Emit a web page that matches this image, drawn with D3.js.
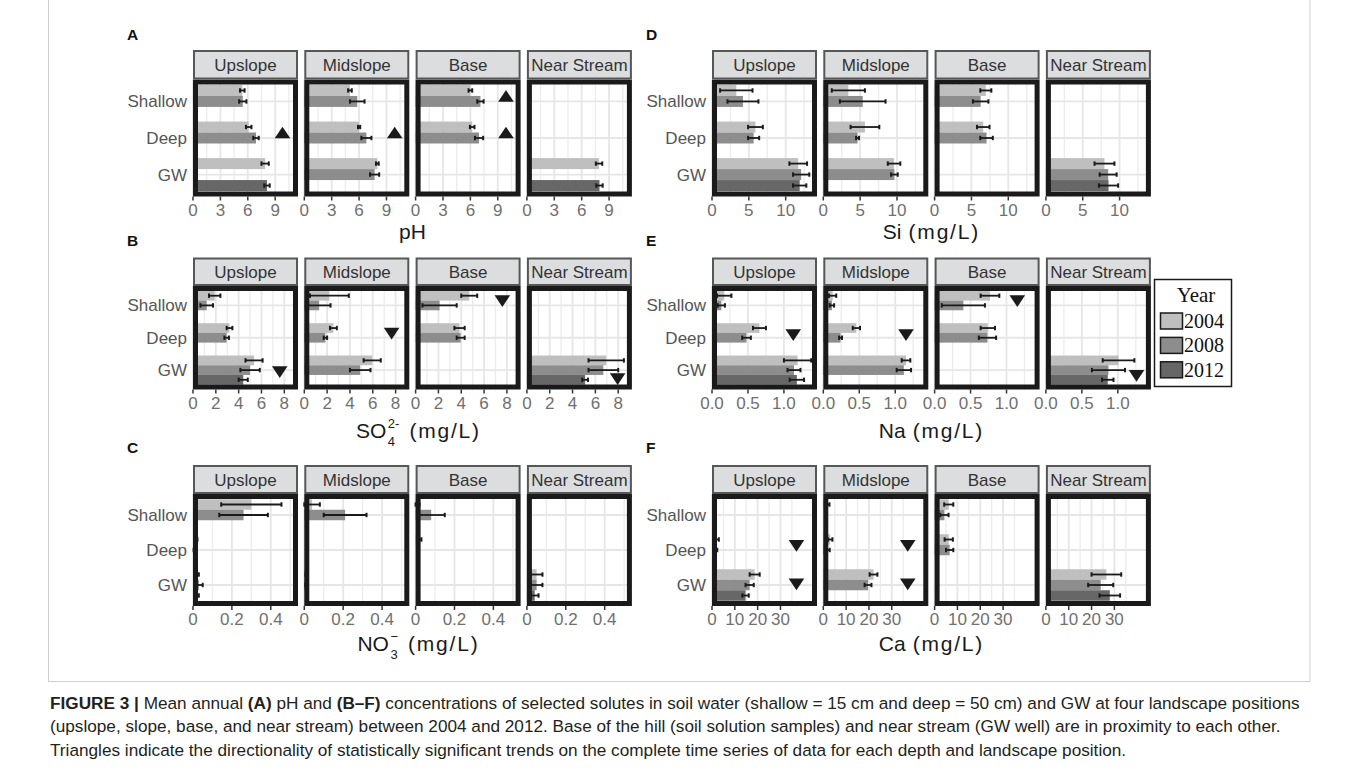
<!DOCTYPE html>
<html><head><meta charset="utf-8">
<script src="https://cdn.jsdelivr.net/npm/d3@7"></script>
<style>
body{margin:0;background:#fff;}
svg{display:block;font-family:"Liberation Sans",Arial,sans-serif;}
</style></head><body>
<svg id="fig" width="1358" height="773"></svg>
<script>
// ---- categories ----
const positions = ["Upslope", "Midslope", "Base", "Near Stream"];
const depths = ["Shallow", "Deep", "GW"];
const years = ["2004", "2008", "2012"];
const yearFill = ["#bfbfbf", "#8d8d8d", "#676767"];

// ---- means and standard errors: [position, depth, year, mean, se] ----
const pH = [
  ["Upslope", "Shallow", "2004", 5.4, 0.25], ["Upslope", "Shallow", "2008", 5.45, 0.4],
  ["Upslope", "Deep", "2004", 6.1, 0.3], ["Upslope", "Deep", "2008", 6.9, 0.3],
  ["Upslope", "GW", "2004", 7.9, 0.4], ["Upslope", "GW", "2012", 8.1, 0.3],
  ["Midslope", "Shallow", "2004", 5.0, 0.2], ["Midslope", "Shallow", "2008", 5.8, 0.8],
  ["Midslope", "Deep", "2004", 6.0, 0.12], ["Midslope", "Deep", "2008", 6.8, 0.55],
  ["Midslope", "GW", "2004", 8.0, 0.15], ["Midslope", "GW", "2008", 7.7, 0.5],
  ["Base", "Shallow", "2004", 6.0, 0.2], ["Base", "Shallow", "2008", 7.1, 0.35],
  ["Base", "Deep", "2004", 6.2, 0.25], ["Base", "Deep", "2008", 6.95, 0.45],
  ["Near Stream", "GW", "2004", 7.9, 0.35], ["Near Stream", "GW", "2012", 7.95, 0.35]
];
const so4 = [
  ["Upslope", "Shallow", "2004", 1.9, 0.5], ["Upslope", "Shallow", "2008", 1.2, 0.55],
  ["Upslope", "Deep", "2004", 3.2, 0.25], ["Upslope", "Deep", "2008", 2.95, 0.2],
  ["Upslope", "GW", "2004", 5.35, 0.75], ["Upslope", "GW", "2008", 5.0, 0.85], ["Upslope", "GW", "2012", 4.4, 0.4],
  ["Midslope", "Shallow", "2004", 2.2, 1.7], ["Midslope", "Shallow", "2008", 1.3, 1.0],
  ["Midslope", "Deep", "2004", 2.55, 0.3], ["Midslope", "Deep", "2008", 1.85, 0.15],
  ["Midslope", "GW", "2004", 5.95, 0.75], ["Midslope", "GW", "2008", 4.9, 0.9],
  ["Base", "Shallow", "2004", 4.7, 0.7], ["Base", "Shallow", "2008", 2.1, 1.5],
  ["Base", "Deep", "2004", 3.85, 0.45], ["Base", "Deep", "2008", 3.95, 0.35],
  ["Near Stream", "GW", "2004", 6.95, 1.55], ["Near Stream", "GW", "2008", 6.7, 1.3], ["Near Stream", "GW", "2012", 5.1, 0.25]
];
const no3 = [
  ["Upslope", "Shallow", "2004", 0.3, 0.155], ["Upslope", "Shallow", "2008", 0.26, 0.125],
  ["Upslope", "Deep", "2004", 0.015, 0.008], ["Upslope", "Deep", "2008", 0.008, 0.005],
  ["Upslope", "GW", "2004", 0.02, 0.01], ["Upslope", "GW", "2008", 0.03, 0.02], ["Upslope", "GW", "2012", 0.02, 0.01],
  ["Midslope", "Shallow", "2004", 0.04, 0.04], ["Midslope", "Shallow", "2008", 0.21, 0.11],
  ["Midslope", "GW", "2004", 0.012, 0.006], ["Midslope", "GW", "2008", 0.01, 0.005],
  ["Base", "Shallow", "2004", 0.01, 0.01], ["Base", "Shallow", "2008", 0.08, 0.07],
  ["Base", "Deep", "2004", 0.02, 0.01],
  ["Near Stream", "GW", "2004", 0.05, 0.03], ["Near Stream", "GW", "2008", 0.05, 0.03], ["Near Stream", "GW", "2012", 0.04, 0.02]
];
const si = [
  ["Upslope", "Shallow", "2004", 3.3, 2.2], ["Upslope", "Shallow", "2008", 4.2, 2.1],
  ["Upslope", "Deep", "2004", 5.9, 1.0], ["Upslope", "Deep", "2008", 5.65, 0.75],
  ["Upslope", "GW", "2004", 11.7, 1.2], ["Upslope", "GW", "2008", 12.1, 1.1], ["Upslope", "GW", "2012", 11.9, 0.9],
  ["Midslope", "Shallow", "2004", 3.4, 2.25], ["Midslope", "Shallow", "2008", 5.35, 3.1],
  ["Midslope", "Deep", "2004", 5.65, 1.95], ["Midslope", "Deep", "2008", 4.65, 0.2],
  ["Midslope", "GW", "2004", 9.6, 0.85], ["Midslope", "GW", "2008", 9.65, 0.45],
  ["Base", "Shallow", "2004", 6.95, 0.75], ["Base", "Shallow", "2008", 6.25, 1.05],
  ["Base", "Deep", "2004", 6.6, 0.85], ["Base", "Deep", "2008", 7.05, 0.85],
  ["Near Stream", "GW", "2004", 7.95, 1.35], ["Near Stream", "GW", "2008", 8.45, 1.15], ["Near Stream", "GW", "2012", 8.5, 1.3]
];
const na = [
  ["Upslope", "Shallow", "2004", 0.17, 0.1], ["Upslope", "Shallow", "2008", 0.13, 0.05],
  ["Upslope", "Deep", "2004", 0.66, 0.09], ["Upslope", "Deep", "2008", 0.48, 0.06],
  ["Upslope", "GW", "2004", 1.19, 0.19], ["Upslope", "GW", "2008", 1.14, 0.09], ["Upslope", "GW", "2012", 1.18, 0.1],
  ["Midslope", "Shallow", "2004", 0.13, 0.05], ["Midslope", "Shallow", "2008", 0.12, 0.03],
  ["Midslope", "Deep", "2004", 0.46, 0.05], ["Midslope", "Deep", "2008", 0.24, 0.02],
  ["Midslope", "GW", "2004", 1.15, 0.06], ["Midslope", "GW", "2008", 1.12, 0.1],
  ["Base", "Shallow", "2004", 0.77, 0.13], ["Base", "Shallow", "2008", 0.4, 0.3],
  ["Base", "Deep", "2004", 0.74, 0.1], ["Base", "Deep", "2008", 0.735, 0.12],
  ["Near Stream", "GW", "2004", 1.01, 0.22], ["Near Stream", "GW", "2008", 0.87, 0.23], ["Near Stream", "GW", "2012", 0.86, 0.08]
];
const ca = [
  ["Upslope", "Deep", "2004", 2.0, 1.0], ["Upslope", "Deep", "2008", 1.5, 0.8],
  ["Upslope", "GW", "2004", 18.7, 2.2], ["Upslope", "GW", "2008", 16.5, 1.8], ["Upslope", "GW", "2012", 14.7, 1.4],
  ["Midslope", "Shallow", "2004", 1.7, 1.0],
  ["Midslope", "Deep", "2004", 3.0, 1.0], ["Midslope", "Deep", "2008", 2.0, 0.8],
  ["Midslope", "GW", "2004", 22, 1.7], ["Midslope", "GW", "2008", 19.6, 1.5],
  ["Base", "Shallow", "2004", 6.2, 2.0], ["Base", "Shallow", "2008", 4.3, 1.8],
  ["Base", "Deep", "2004", 6.2, 1.8], ["Base", "Deep", "2008", 6.6, 1.6],
  ["Near Stream", "GW", "2004", 26.5, 6.5], ["Near Stream", "GW", "2008", 24, 5.5], ["Near Stream", "GW", "2012", 28, 4.5]
];

// ---- significant trends: [position, depth, direction, x value, row shift (share of a row)] ----
const pHTrend = [["Upslope", "Deep", "up", 9.8, -0.15], ["Midslope", "Deep", "up", 9.9, -0.15],
  ["Base", "Shallow", "up", 9.9, -0.15], ["Base", "Deep", "up", 9.9, -0.15]];
const so4Trend = [["Upslope", "GW", "down", 7.6, 0.06], ["Midslope", "Deep", "down", 7.65, -0.13],
  ["Base", "Shallow", "down", 7.6, -0.13], ["Near Stream", "GW", "down", 7.95, 0.28]];
const no3Trend = [];
const siTrend = [];
const naTrend = [["Upslope", "Deep", "down", 1.13, -0.08], ["Midslope", "Deep", "down", 1.15, -0.08],
  ["Base", "Shallow", "down", 1.15, -0.13], ["Near Stream", "GW", "down", 1.26, 0.18]];
const caTrend = [["Upslope", "Deep", "down", 37, -0.12], ["Upslope", "GW", "down", 37, -0.02],
  ["Midslope", "Deep", "down", 37, -0.12], ["Midslope", "GW", "down", 37, -0.02]];

// ---- axis ticks ----
const pHTicks = [0, 3, 6, 9];
const so4Ticks = [0, 2, 4, 6, 8];
const no3Ticks = [0, 0.2, 0.4];
const no3TickLabels = ["0", "0.2", "0.4"];
const siTicks = [0, 5, 10];
const naTicks = [0, 0.5, 1.0];
const naTickLabels = ["0.0", "0.5", "1.0"];
const caTicks = [0, 10, 20, 30];

// ---- layout ----
const svg = d3.select("#fig");
const PW = 105, PSTEP = 111.3;
const colLeft = [193, 712];
const rowBox = [
  { letter: 40, strip: 50, top: 79.5, h: 117, title: 42 },
  { letter: 245.5, strip: 257.5, top: 286, h: 103.5, title: 48.5 },
  { letter: 452.5, strip: 465, top: 494, h: 112, title: 45 }
];
const ink = "#1a1a1a";

// figure frame
svg.append("rect").attr("x", 48.5).attr("y", -2).attr("width", 1261.5).attr("height", 683.5)
  .attr("fill", "none").attr("stroke", "#cfcfcf").attr("stroke-width", 1);

const panels = [
  { letter: "A", col: 0, row: 0, data: pH, trend: pHTrend, max: 11.5, ticks: pHTicks, title: [["pH"]] },
  { letter: "B", col: 0, row: 1, data: so4, trend: so4Trend, max: 9.2, ticks: so4Ticks, title: [["SO"], ["2-", "4"], ["(mg/L)"]] },
  { letter: "C", col: 0, row: 2, data: no3, trend: no3Trend, max: 0.54, ticks: no3Ticks, labels: no3TickLabels, title: [["NO"], ["\u2212", "3"], ["(mg/L)"]] },
  { letter: "D", col: 1, row: 0, data: si, trend: siTrend, max: 14.25, ticks: siTicks, title: [["Si"], ["(mg/L)"]] },
  { letter: "E", col: 1, row: 1, data: na, trend: naTrend, max: 1.46, ticks: naTicks, labels: naTickLabels, title: [["Na"], ["(mg/L)"]] },
  { letter: "F", col: 1, row: 2, data: ca, trend: caTrend, max: 46, ticks: caTicks, title: [["Ca"], ["(mg/L)"]] }
];

// axis title with an optional stacked superscript / subscript pair
function drawTitle(p, cx, baseline) {
  const g = svg.append("g");
  let x = 0;
  const stacked = p.title.some(part => part.length > 1);
  p.title.forEach((part, i) => {
    if (i > 0 && part.length === 1) x += stacked ? 9 : 7;
    if (part.length === 1) {
      const t = g.append("text").attr("x", x).attr("y", baseline).attr("font-size", 21).attr("fill", ink)
        .attr("letter-spacing", part[0].startsWith("(") ? 1.8 : 0).text(part[0]);
      x += t.node().getComputedTextLength();
    } else {
      x += 1.5;
      const sup = g.append("text").attr("x", x).attr("y", baseline - 10.5).attr("font-size", 13).attr("fill", ink).text(part[0]);
      const sub = g.append("text").attr("x", x).attr("y", baseline + 7.5).attr("font-size", 13).attr("fill", ink).text(part[1]);
      x += Math.max(sup.node().getComputedTextLength(), sub.node().getComputedTextLength()) + 1;
    }
  });
  g.attr("transform", `translate(${cx - x / 2 + (stacked ? 6 : 0)},0)`);
}

panels.forEach(p => {
  const rb = rowBox[p.row];
  const left = colLeft[p.col];
  // panel letter
  svg.append("text").attr("x", left - 66).attr("y", rb.letter).attr("font-size", 15.5)
    .attr("font-weight", "bold").attr("fill", "#111").text(p.letter);

  const y = d3.scaleBand().domain(depths).range([rb.top, rb.top + rb.h]).paddingInner(0).paddingOuter(0.1);
  const step = y.step();
  const dodge = d3.scaleBand().domain(years).range([0.05 * step, 0.95 * step]).padding(0);
  const stepTick = p.ticks[1] - p.ticks[0];
  const minor = d3.range(stepTick / 2, p.max, stepTick);

  positions.forEach((pos, i) => {
    const x0 = left + i * PSTEP;
    const x = d3.scaleLinear().domain([0, p.max]).range([x0, x0 + PW]);
    const g = svg.append("g");

    // strip
    g.append("rect").attr("x", x0 + 1).attr("y", rb.strip + 1).attr("width", PW - 2).attr("height", rb.top - rb.strip - 2)
      .attr("fill", "#dcdddf").attr("stroke", "#575757").attr("stroke-width", 2);
    g.append("text").attr("x", x0 + PW / 2).attr("y", (rb.strip + rb.top) / 2 + 6).attr("text-anchor", "middle")
      .attr("font-size", 17).attr("fill", "#333").text(pos);

    // panel background and grid
    g.append("rect").attr("x", x0).attr("y", rb.top).attr("width", PW).attr("height", rb.h).attr("fill", "#fff");
    g.selectAll(".minor").data(minor).join("line")
      .attr("x1", d => x(d)).attr("x2", d => x(d)).attr("y1", rb.top).attr("y2", rb.top + rb.h)
      .attr("stroke", "#ececec").attr("stroke-width", 1.3);
    g.selectAll(".major").data(p.ticks).join("line")
      .attr("x1", d => x(d)).attr("x2", d => x(d)).attr("y1", rb.top).attr("y2", rb.top + rb.h)
      .attr("stroke", "#e6e6e6").attr("stroke-width", 1.8);
    g.selectAll(".hgrid").data(depths).join("line")
      .attr("x1", x0).attr("x2", x0 + PW).attr("y1", d => y(d) + step / 2).attr("y2", d => y(d) + step / 2)
      .attr("stroke", "#e6e6e6").attr("stroke-width", 1.8);

    const rows = p.data.filter(d => d[0] === pos);
    // bars
    g.selectAll(".bar").data(rows).join("rect")
      .attr("x", x(0)).attr("y", d => y(d[1]) + dodge(d[2]))
      .attr("width", d => x(d[3]) - x(0)).attr("height", dodge.bandwidth())
      .attr("fill", d => yearFill[years.indexOf(d[2])]);
    // error bars
    rows.forEach(d => {
      const cy = y(d[1]) + dodge(d[2]) + dodge.bandwidth() / 2;
      const xa = x(d[3] - d[4]), xb = x(d[3] + d[4]);
      g.append("line").attr("x1", xa).attr("x2", xb).attr("y1", cy).attr("y2", cy)
        .attr("stroke", ink).attr("stroke-width", 1.8);
      [xa, xb].forEach(xx => g.append("line").attr("x1", xx).attr("x2", xx).attr("y1", cy - 2.2).attr("y2", cy + 2.2)
        .attr("stroke", ink).attr("stroke-width", 2));
    });
    // trend triangles
    p.trend.filter(t => t[0] === pos).forEach(t => {
      const cx = x(t[3]);
      const cy = y(t[1]) + step / 2 + t[4] * step;
      const hw = 7.8, hh = 5.85;
      const pts = t[2] === "up"
        ? [[cx - hw, cy + hh], [cx + hw, cy + hh], [cx, cy - hh]]
        : [[cx - hw, cy - hh], [cx + hw, cy - hh], [cx, cy + hh]];
      g.append("polygon").attr("points", pts.map(q => q.join(",")).join(" ")).attr("fill", ink);
    });

    // panel border
    g.append("rect").attr("x", x0 + 2.5).attr("y", rb.top + 2.5).attr("width", PW - 5).attr("height", rb.h - 5)
      .attr("fill", "none").attr("stroke", ink).attr("stroke-width", 5);

    // x axis ticks and labels
    const bottom = rb.top + rb.h;
    g.selectAll(".tick").data(p.ticks).join("line")
      .attr("x1", d => x(d)).attr("x2", d => x(d)).attr("y1", bottom).attr("y2", bottom + 4)
      .attr("stroke", "#333").attr("stroke-width", 1.5);
    g.selectAll(".tl").data(p.ticks).join("text")
      .attr("x", d => x(d)).attr("y", bottom + 19).attr("text-anchor", "middle")
      .attr("font-size", 17).attr("fill", "#707070")
      .text((d, k) => p.labels ? p.labels[k] : d3.format("~g")(d));

    // y labels on the first panel of each row
    if (i === 0) {
      g.selectAll(".yl").data(depths).join("text")
        .attr("x", x0 - 6).attr("y", d => y(d) + step / 2 + 6).attr("text-anchor", "end")
        .attr("font-size", 17).attr("fill", "#555").text(d => d);
    }
  });

  const cx = left + (3 * PSTEP + PW) / 2;
  drawTitle(p, cx, rb.top + rb.h + rb.title);
});

// legend
const lg = svg.append("g").attr("font-family", "'Liberation Serif','Times New Roman',serif");
lg.append("rect").attr("x", 1154.5).attr("y", 279.5).attr("width", 77).attr("height", 107)
  .attr("fill", "#fff").attr("stroke", ink).attr("stroke-width", 1.5);
lg.append("text").attr("x", 1196).attr("y", 302).attr("text-anchor", "middle").attr("font-size", 21).attr("fill", "#111").text("Year");
years.forEach((yr, k) => {
  const ky = 313 + k * 24.4;
  lg.append("rect").attr("x", 1160.5).attr("y", ky).attr("width", 22).attr("height", 16)
    .attr("fill", yearFill[k]).attr("stroke", ink).attr("stroke-width", 1.5);
  lg.append("text").attr("x", 1184).attr("y", ky + 15).attr("font-size", 20).attr("fill", "#111").text(yr);
});

// caption
const cap = svg.append("g").attr("font-size", 17.2).attr("fill", "#231f20");
const line1 = cap.append("text").attr("x", 50).attr("y", 708.5);
line1.append("tspan").attr("font-weight", "bold").text("FIGURE 3 | ");
line1.append("tspan").text("Mean annual ");
line1.append("tspan").attr("font-weight", "bold").text("(A)");
line1.append("tspan").text(" pH and ");
line1.append("tspan").attr("font-weight", "bold").text("(B\u2013F)");
line1.append("tspan").text(" concentrations of selected solutes in soil water (shallow = 15 cm and deep = 50 cm) and GW at four landscape positions");
cap.append("text").attr("x", 50).attr("y", 732)
  .text("(upslope, slope, base, and near stream) between 2004 and 2012. Base of the hill (soil solution samples) and near stream (GW well) are in proximity to each other.");
cap.append("text").attr("x", 50).attr("y", 755.5)
  .text("Triangles indicate the directionality of statistically significant trends on the complete time series of data for each depth and landscape position.");
</script>
</body></html>
